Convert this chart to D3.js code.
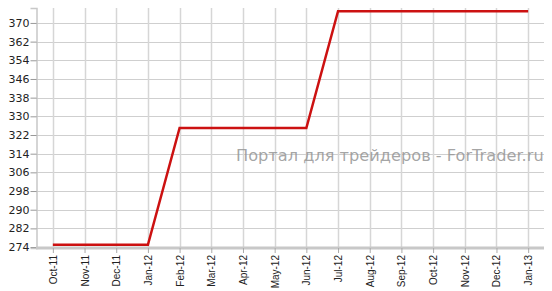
<!DOCTYPE html>
<html lang="ru">
<meta charset="utf-8">
<style>
    html, body { margin: 0; padding: 0; background: #fff; }
    svg { display: block; }
    .ylab { font-family: "DejaVu Sans", Verdana, sans-serif; font-size: 11px; fill: #222; }
    .xlab { font-family: "Liberation Sans", Arial, sans-serif; font-size: 10px; fill: #222; }
</style>
<body>
<svg id="svg" width="552" height="291"></svg>
<script src="https://cdnjs.cloudflare.com/ajax/libs/d3/7.8.5/d3.min.js"></script>
<script>
    var months = ["Oct-11", "Nov-11", "Dec-11", "Jan-12", "Feb-12", "Mar-12", "Apr-12", "May-12",
                  "Jun-12", "Jul-12", "Aug-12", "Sep-12", "Oct-12", "Nov-12", "Dec-12", "Jan-13"];
    var values = [275, 275, 275, 275, 325, 325, 325, 325, 325, 375, 375, 375, 375, 375, 375, 375];
    var yTicks = [274, 282, 290, 298, 306, 314, 322, 330, 338, 346, 354, 362, 370];
    var watermark = "Портал для трейдеров - ForTrader.ru";

    var svg = d3.select("svg"),
        margin = {top: 8, right: 8, bottom: 43, left: 36},
        width = +svg.attr("width"),
        height = +svg.attr("height");

    var x = d3.scalePoint()
        .domain(months)
        .range([margin.left + 1, width - margin.right])
        .padding(0.5);

    var y = d3.scaleLinear()
        .domain([273.6, 376.4])
        .range([height - margin.bottom, margin.top]);

    // grid
    svg.append("g").selectAll("line").data(yTicks).enter().append("line")
        .attr("x1", margin.left).attr("x2", width - margin.right)
        .attr("y1", d => Math.round(y(d)) + 0.5).attr("y2", d => Math.round(y(d)) + 0.5)
        .attr("stroke", "#cfcfcf");

    svg.append("g").selectAll("line").data(months).enter().append("line")
        .attr("x1", d => Math.round(x(d)) + 0.5).attr("x2", d => Math.round(x(d)) + 0.5)
        .attr("y1", margin.top).attr("y2", height - margin.bottom)
        .attr("stroke", "#d6d6d6").attr("stroke-width", 1.5);

    // y axis
    var yAxis = svg.append("g")
        .attr("transform", `translate(${margin.left + 0.5},0)`)
        .call(d3.axisLeft(y).tickValues(yTicks).tickSize(6).tickPadding(1));
    yAxis.select(".domain").attr("stroke", "#c8c8c8").attr("stroke-width", 1.5);
    yAxis.selectAll(".tick line").attr("stroke", "#999");
    yAxis.selectAll("text").attr("class", "ylab").attr("fill", null);

    // watermark
    svg.append("text")
        .attr("x", 236).attr("y", 161)
        .attr("font-family", "'DejaVu Sans', Verdana, sans-serif")
        .attr("font-size", 16.2)
        .attr("fill", "#959595")
        .attr("fill-opacity", 0.85)
        .text(watermark);

    // x axis
    var xAxis = svg.append("g")
        .attr("transform", `translate(0,${height - margin.bottom})`)
        .call(d3.axisBottom(x).tickSize(5).tickSizeOuter(0));
    xAxis.select(".domain")
        .attr("d", `M${margin.left},0H${width - margin.right}`)
        .attr("stroke", "#c8c8c8").attr("stroke-width", 3);
    xAxis.selectAll(".tick line").attr("stroke", "#aaa");
    xAxis.selectAll("text")
        .attr("class", "xlab").attr("fill", null)
        .attr("transform", "rotate(-90)")
        .attr("text-anchor", "end")
        .attr("x", -7).attr("y", 0).attr("dy", "0.35em");

    // line
    var line = d3.line()
        .x((d, i) => x(months[i]))
        .y(d => y(d));

    svg.append("path")
        .datum(values)
        .attr("fill", "none")
        .attr("stroke", "#cc1111")
        .attr("stroke-width", 2.5)
        .attr("stroke-linejoin", "miter")
        .attr("d", line);
</script>
</body>
</html>
